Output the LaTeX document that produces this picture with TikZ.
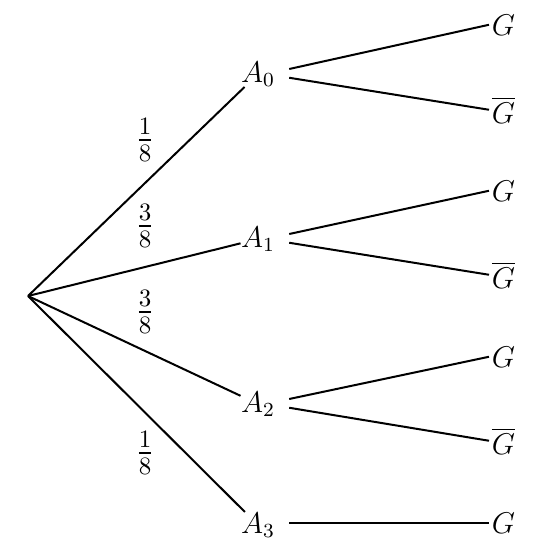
\documentclass[tikz,border=0pt]{standalone}
\usepackage{amsmath}
\usetikzlibrary{calc}

\begin{document}
\begin{tikzpicture}[x=0.4pt,y=-0.4pt,
  ev/.style={inner sep=0pt, anchor=base, font=\large},
  res/.style={inner sep=1pt, anchor=base west, font=\large},
  prob/.style={font=\Large},
  br/.style={thick}]
\useasboundingbox (0,0) rectangle (540,555);
\coordinate (O) at (28,296);
% first stage
\node[ev] (A0) at (258,82) {$A_0$};
\node[ev] (A1) at (258,247) {$A_1$};
\node[ev] (A2) at (258,412) {$A_2$};
\node[ev] (A3) at (258,533) {$A_3$};
\node[prob] (p0) at (145,140) {$\genfrac{}{}{1pt}{}{1}{8}$};
\node[prob] (p1) at (145,226) {$\genfrac{}{}{1pt}{}{3}{8}$};
\node[prob] (p2) at (145,312) {$\genfrac{}{}{1pt}{}{3}{8}$};
\node[prob] (p3) at (145,453) {$\genfrac{}{}{1pt}{}{1}{8}$};
\foreach \i in {0,...,3}
  \draw[br] (O) -- (A\i);
% second stage
\node[res] (G0) at (489,35) {$G$};
\node[res] (N0) at (489,123) {$\overline{G}$};
\node[res] (G1) at (489,201) {$G$};
\node[res] (N1) at (489,288) {$\overline{G}$};
\node[res] (G2) at (489,367) {$G$};
\node[res] (N2) at (489,454) {$\overline{G}$};
\node[res] (G3) at (489,533) {$G$};
\foreach \i in {0,1,2}{
  \draw[br] ([xshift=5.5pt,yshift=2pt]A\i.east) -- (G\i.west);
  \draw[br] ([xshift=5.5pt,yshift=-1.5pt]A\i.east) -- (N\i.west);
}
\draw[br] ([xshift=5.5pt]A3.east |- G3.west) -- (G3.west);
\end{tikzpicture}
\end{document}
